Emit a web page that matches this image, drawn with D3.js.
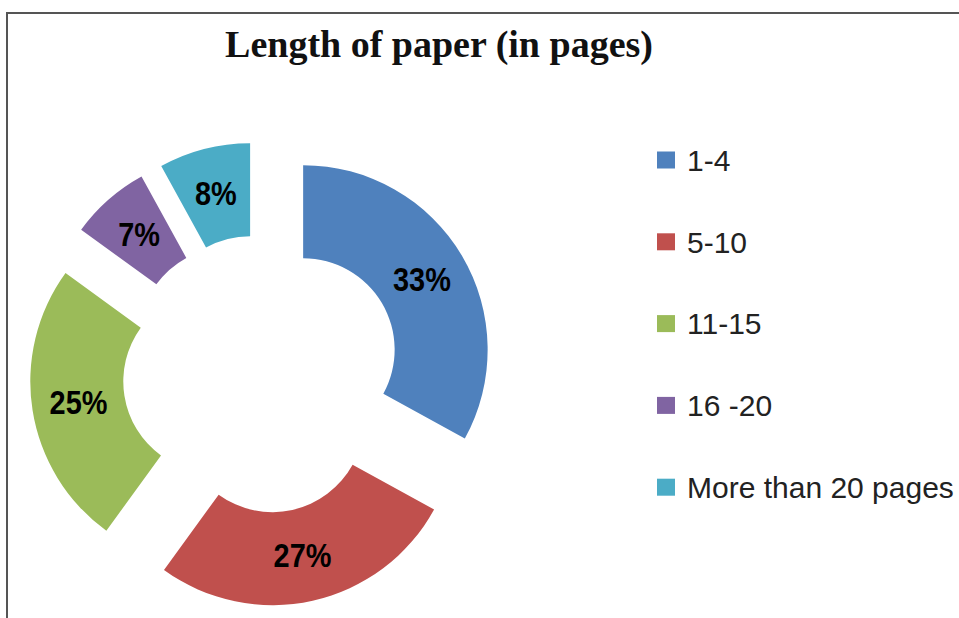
<!DOCTYPE html>
<html>
<head>
<meta charset="utf-8">
<script src="https://cdn.jsdelivr.net/npm/d3@7"></script>
<style>
  html, body { margin: 0; padding: 0; background: #fff; }
  svg { display: block; }
</style>
</head>
<body>
<svg id="chart" width="959" height="618"></svg>
<script>
// Survey answers: length of paper in pages
const categories = ["1-4", "5-10", "11-15", "16 -20", "More than 20 pages"];
const shares = [33, 27, 25, 7, 8];
const colors = ["#4F81BD", "#C0504D", "#9BBB59", "#8064A2", "#4BACC6"];
const title = "Length of paper (in pages)";

const svg = d3.select("#chart");
const W = 959, H = 618;

// frame (top and left edges of the chart area)
svg.append("path")
  .attr("d", `M7,${H} L7,13 L${W},13`)
  .attr("fill", "none")
  .attr("stroke", "#555")
  .attr("stroke-width", 2);

svg.append("text")
  .attr("x", 439)
  .attr("y", 57)
  .attr("text-anchor", "middle")
  .attr("font-family", "'Liberation Serif', 'Times New Roman', serif")
  .attr("font-weight", "bold")
  .attr("font-size", 38)
  .attr("fill", "#111")
  .text(title);

// exploded doughnut
const cx = 262, cy = 374;
const outerR = 184.5, innerR = 91.5, explode = 47.8;

const pie = d3.pie().sort(null).value(d => d)(shares);
const arc = d3.arc().innerRadius(innerR).outerRadius(outerR);
const labelArc = d3.arc().innerRadius((innerR + outerR) / 2).outerRadius((innerR + outerR) / 2);

const g = svg.append("g").attr("transform", `translate(${cx},${cy})`);

const slices = g.selectAll("g.slice")
  .data(pie)
  .join("g")
  .attr("class", "slice")
  .attr("transform", d => {
    const a = (d.startAngle + d.endAngle) / 2;
    return `translate(${explode * Math.sin(a)},${-explode * Math.cos(a)})`;
  });

slices.append("path")
  .attr("d", arc)
  .attr("fill", (d, i) => colors[i]);

// percentage labels in a condensed bold face
slices.append("text")
  .attr("transform", d => `translate(${labelArc.centroid(d)}) scale(0.85,1)`)
  .attr("text-anchor", "middle")
  .attr("dy", "0.33em")
  .attr("font-family", "'Liberation Sans', Arial, sans-serif")
  .attr("font-weight", "bold")
  .attr("font-size", 34)
  .attr("fill", "#000")
  .text(d => d.data + "%");

// legend
const legend = svg.append("g").attr("transform", "translate(657,160)");
const rows = legend.selectAll("g")
  .data(categories)
  .join("g")
  .attr("transform", (d, i) => `translate(0,${i * 81.8})`);

rows.append("rect")
  .attr("x", 0)
  .attr("y", -8.5)
  .attr("width", 18)
  .attr("height", 17)
  .attr("fill", (d, i) => colors[i]);

rows.append("text")
  .attr("x", 30)
  .attr("dy", "0.36em")
  .attr("font-family", "'Liberation Sans', Arial, sans-serif")
  .attr("font-size", 30)
  .attr("fill", "#222")
  .text(d => d);
</script>
</body>
</html>
